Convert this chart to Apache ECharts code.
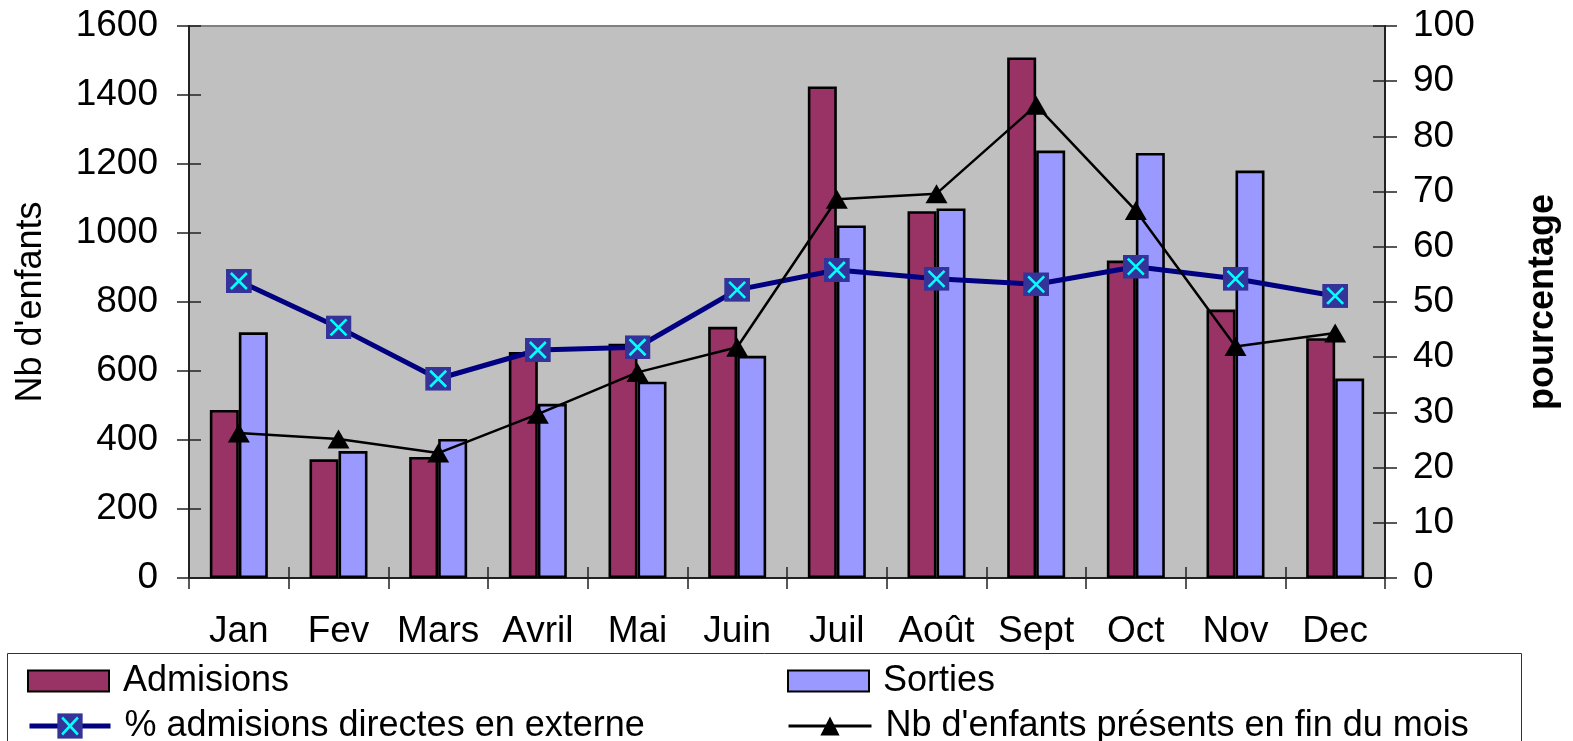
<!DOCTYPE html>
<html>
<head>
<meta charset="utf-8">
<script src="https://cdn.jsdelivr.net/npm/echarts@6/dist/echarts.min.js"></script>
<style>
html,body{margin:0;padding:0;background:#fff;}
#chart{width:1573px;height:741px;}
</style>
</head>
<body>
<div id="chart"></div>
<script>
const months = ['Jan','Fev','Mars','Avril','Mai','Juin','Juil','Août','Sept','Oct','Nov','Dec'];
const admisions = [487, 344, 351, 655, 679, 728, 1425, 1063, 1509, 920, 778, 695];
const sorties = [712, 368, 403, 505, 569, 644, 1022, 1071, 1239, 1232, 1181, 578];
const presents = [420, 403, 362, 475, 596, 669, 1098, 1114, 1370, 1065, 671, 710];
const pctExterne = [53.8, 45.4, 36.1, 41.3, 41.8, 52.2, 55.8, 54.2, 53.2, 56.4, 54.2, 51.1];
const leftTicks = {min: 0, max: 1600, interval: 200};
const rightTicks = {min: 0, max: 100, interval: 10};

const FONT = 'Liberation Sans';
const markerSvg = "<svg xmlns='http://www.w3.org/2000/svg' width='26' height='24' viewBox='0 0 26 24'><rect width='26' height='24' fill='#333399'/><path d='M5 4L21 20M21 4L5 20' stroke='#00FFFF' stroke-width='2.6' fill='none'/></svg>";
const markerSymbol = 'image://data:image/svg+xml;charset=utf-8,' + encodeURIComponent(markerSvg);

const chart = echarts.init(document.getElementById('chart'), null, {renderer: 'canvas'});
const axisLineStyle = {color: '#222', width: 2};
const tickStyle = {color: '#222', width: 1.5};

function legend(name, left, top, iw, ih, extra) {
  return Object.assign({
    data: [name], left: left, top: top, padding: 0,
    itemWidth: iw, itemHeight: ih, selectedMode: false,
    textStyle: {fontFamily: FONT, fontSize: 36, color: '#000', padding: [0,0,0,9], lineHeight: 40}
  }, extra || {});
}

chart.setOption({
  animation: false,
  backgroundColor: '#fff',
  textStyle: {fontFamily: FONT},
  grid: {left: 189, right: 188, top: 26, bottom: 163, show: true, backgroundColor: '#C0C0C0', borderColor: '#808080', borderWidth: 2},
  legend: [
    legend('Admisions', 27, 661, 81, 21, {icon: 'rect'}),
    legend('Sorties', 787, 661, 81, 21, {icon: 'rect'}),
    legend('% admisions directes en externe', 27, 706, 81, 32, {lineStyle: {width: 5, color: '#000080'}}),
    legend("Nb d'enfants présents en fin du mois", 787, 706, 83, 24, {lineStyle: {width: 3, color: '#000'}})
  ],
  graphic: [{
    type: 'rect', shape: {x: 7.5, y: 653.5, width: 1514, height: 120},
    style: {fill: 'none', stroke: '#333', lineWidth: 1}, z: -1, silent: true
  }],
  xAxis: [{
    type: 'category', data: months, position: 'bottom',
    axisLine: {lineStyle: axisLineStyle},
    axisTick: {show: true, length: 11, lineStyle: tickStyle},
    axisLabel: {fontFamily: FONT, fontSize: 37, color: '#000', margin: 35, interval: 0}
  }, {
    type: 'category', data: months, position: 'bottom',
    axisLine: {show: false},
    axisTick: {show: true, inside: true, length: 11, lineStyle: tickStyle},
    axisLabel: {show: false}
  }],
  yAxis: [{
    type: 'value', position: 'left', min: leftTicks.min, max: leftTicks.max, interval: leftTicks.interval,
    name: "Nb d'enfants", nameLocation: 'middle', nameGap: 140, nameRotate: 90,
    nameTextStyle: {fontFamily: FONT, fontSize: 36, color: '#000'},
    axisLine: {show: true, lineStyle: axisLineStyle},
    axisTick: {show: true, length: 12, lineStyle: tickStyle},
    axisLabel: {fontFamily: FONT, fontSize: 37, color: '#000', margin: 31, formatter: v => String(v)},
    splitLine: {show: false}
  }, {
    type: 'value', position: 'right', min: rightTicks.min, max: rightTicks.max, interval: rightTicks.interval,
    name: 'pourcentage', nameLocation: 'middle', nameGap: 140, nameRotate: 90,
    nameTextStyle: {fontFamily: FONT, fontSize: 36, fontWeight: 'bold', color: '#000'},
    axisLine: {show: true, lineStyle: axisLineStyle},
    axisTick: {show: true, length: 12, lineStyle: tickStyle},
    axisLabel: {fontFamily: FONT, fontSize: 37, color: '#000', margin: 28, formatter: v => String(v)},
    splitLine: {show: false}
  }, {
    type: 'value', position: 'left', min: leftTicks.min, max: leftTicks.max, interval: leftTicks.interval,
    axisLine: {show: false}, axisTick: {show: true, inside: true, length: 12, lineStyle: tickStyle},
    axisLabel: {show: false}, splitLine: {show: false}
  }, {
    type: 'value', position: 'right', min: rightTicks.min, max: rightTicks.max, interval: rightTicks.interval,
    axisLine: {show: false}, axisTick: {show: true, inside: true, length: 12, lineStyle: tickStyle},
    axisLabel: {show: false}, splitLine: {show: false}
  }],
  series: [{
    name: 'Admisions', type: 'bar', data: admisions, yAxisIndex: 0, xAxisIndex: 0,
    barWidth: 29, barGap: '0%',
    itemStyle: {color: '#993366', borderColor: '#000', borderWidth: 2.6}
  }, {
    name: 'Sorties', type: 'bar', data: sorties, yAxisIndex: 0, xAxisIndex: 0,
    barWidth: 29, barGap: '0%',
    itemStyle: {color: '#9999FF', borderColor: '#000', borderWidth: 2.6}
  }, {
    name: '% admisions directes en externe', type: 'line', data: pctExterne, yAxisIndex: 1,
    symbol: markerSymbol, symbolSize: [26, 24],
    lineStyle: {color: '#000080', width: 5},
    itemStyle: {color: '#000080'}, z: 3
  }, {
    name: "Nb d'enfants présents en fin du mois", type: 'line', data: presents, yAxisIndex: 0,
    symbol: 'triangle', symbolSize: [22, 19],
    lineStyle: {color: '#000', width: 2.5},
    itemStyle: {color: '#000'}, z: 4
  }]
});
</script>
</body>
</html>
